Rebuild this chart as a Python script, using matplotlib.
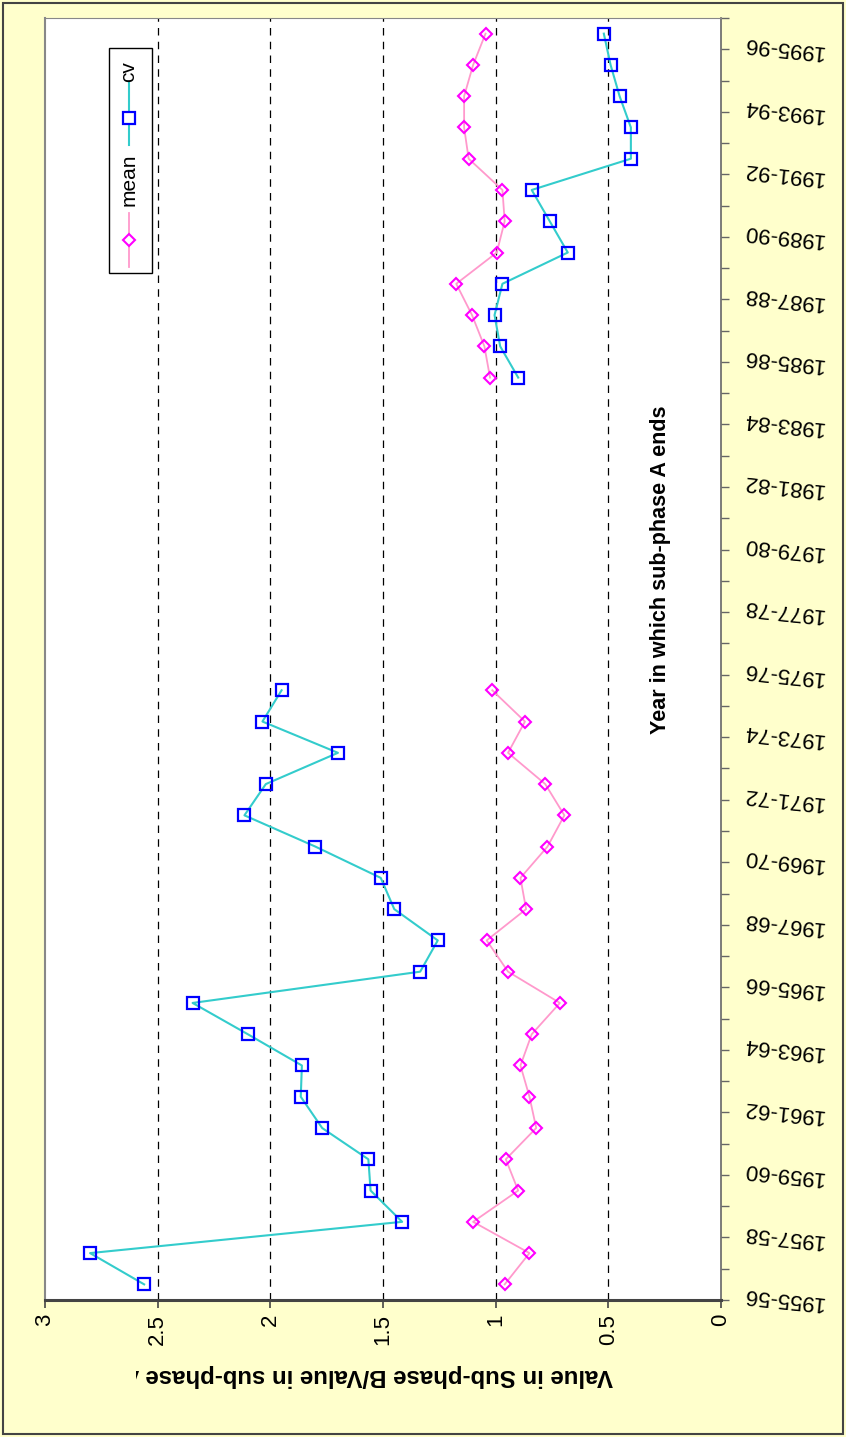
import matplotlib
matplotlib.use("Agg")
import matplotlib.pyplot as plt
from matplotlib.lines import Line2D
from matplotlib.patches import Rectangle
import numpy as np

plt.rcParams['font.family'] = ['Liberation Sans', 'DejaVu Sans']

# categories (end year of sub-phase A)
years = ['%d-%02d' % (y, (y + 1) % 100) for y in range(1955, 1996)]

# series values (None = no data)
cv = [2.56, 2.80, 1.415, 1.555, 1.565, 1.77, 1.865, 1.86, 2.10, 2.345,
      1.335, 1.257, 1.45, 1.51, 1.80, 2.115, 2.02, 1.70, 2.035, 1.95,
      None, None, None, None, None, None, None, None, None,
      0.90, 0.98, 1.005, 0.97, 0.68, 0.76, 0.84, 0.40, 0.40, 0.45, 0.49, 0.52]
mean = [0.96, 0.85, 1.10, 0.90, 0.955, 0.82, 0.85, 0.89, 0.84, 0.715,
        0.945, 1.04, 0.865, 0.89, 0.77, 0.695, 0.78, 0.945, 0.87, 1.015,
        None, None, None, None, None, None, None, None, None,
        1.025, 1.05, 1.105, 1.175, 0.995, 0.96, 0.97, 1.12, 1.14, 1.14, 1.10, 1.045]

W, H = 846, 1437
fig = plt.figure(figsize=(W / 100, H / 100), dpi=100, facecolor='#FFFFCC')

def fx(px): return px / W
def fy(py): return 1 - py / H

ax = fig.add_axes([fx(45), fy(1300), fx(721) - fx(45), fy(18) - fy(1300)])
ax.set_facecolor('white')

pos = np.arange(len(years))
cv_a = np.array([np.nan if v is None else v for v in cv])
mean_a = np.array([np.nan if v is None else v for v in mean])

ax.plot(mean_a, pos, '-', color='#FF99CC', lw=1.3, marker='D', ms=6.5,
        mfc='none', mec='#FF00FF', mew=1.5)
ax.plot(cv_a, pos, '-', color='#33CCCC', lw=1.5, marker='s', ms=9,
        mfc='none', mec='#0000FF', mew=1.6)

for g in [0.5, 1, 1.5, 2, 2.5]:
    ax.axvline(g, color='black', lw=0.9, ls=(0, (6, 5)), zorder=0)

ax.set_xlim(3, 0)
ax.set_ylim(-0.5, len(years) - 0.5)

# value axis (bottom)
ax.set_xticks([0, 0.5, 1, 1.5, 2, 2.5, 3])
ax.set_xticklabels(['0', '0.5', '1', '1.5', '2', '2.5', '3'], rotation=90,
                   fontsize=16)
ax.tick_params(axis='x', direction='out', length=6, width=1.2, color='#444444', pad=4)

# year axis (right)
ax.yaxis.tick_right()
ax.set_yticks(np.arange(-0.5, len(years), 1))
ax.set_yticklabels([])
ax.tick_params(axis='y', direction='out', length=6, width=1, color='#666666')
for i in range(0, len(years), 2):
    ax.text(1.092, i - 0.45, years[i], transform=ax.get_yaxis_transform(),
            rotation=174, fontsize=16, ha='center', va='center',
            rotation_mode='anchor')

ax.spines['top'].set_color('#888888')
ax.spines['left'].set_color('#888888')
ax.spines['left'].set_linewidth(1.5)
ax.spines['bottom'].set_color('#444444')
ax.spines['bottom'].set_linewidth(2.2)
ax.spines['right'].set_color('#666666')
ax.spines['right'].set_linewidth(1.2)

# axis titles
fig.text(fx(368), fy(1376), 'Value in Sub-phase B/Value in sub-phase A',
         rotation=180, fontsize=17.3, fontweight='bold',
         ha='center', va='center', zorder=3)
# the original cuts the end of this title off
fig.add_artist(Rectangle((fx(60), fy(1410)), fx(136) - fx(60), fy(1340) - fy(1410),
                         transform=fig.transFigure, facecolor='#FFFFCC',
                         edgecolor='none', zorder=5))
fig.text(fx(660), fy(570), 'Year in which sub-phase A ends', rotation=90,
         fontsize=15.5, fontweight='bold', ha='center', va='center')

# legend (drawn rotated like the rest of the chart)
fig.add_artist(Rectangle((fx(109), fy(273)), fx(152) - fx(109), fy(48) - fy(273),
                         transform=fig.transFigure, facecolor='white',
                         edgecolor='black', lw=1))
fig.add_artist(Line2D([fx(129)] * 2, [fy(213), fy(267)], transform=fig.transFigure,
                      color='#FF99CC', lw=1.3))
fig.add_artist(Line2D([fx(129)], [fy(240)], transform=fig.transFigure, marker='D',
                      ms=6.5, mfc='white', mec='#FF00FF', mew=1.5))
fig.text(fx(129), fy(180), 'mean', rotation=90, fontsize=15, ha='center', va='center')
fig.add_artist(Line2D([fx(129)] * 2, [fy(83), fy(145)], transform=fig.transFigure,
                      color='#33CCCC', lw=1.5))
fig.add_artist(Line2D([fx(129)], [fy(118)], transform=fig.transFigure, marker='s',
                      ms=9, mfc='white', mec='#0000FF', mew=1.6))
fig.text(fx(129), fy(72), 'cv', rotation=90, fontsize=15, ha='center', va='center')

# outer border
fig.add_artist(Rectangle((fx(3), fy(1434)), fx(843) - fx(3), fy(3) - fy(1434),
                         transform=fig.transFigure, facecolor='none',
                         edgecolor='#444444', lw=1.5))

fig.savefig('out.png', dpi=100, facecolor=fig.get_facecolor())
